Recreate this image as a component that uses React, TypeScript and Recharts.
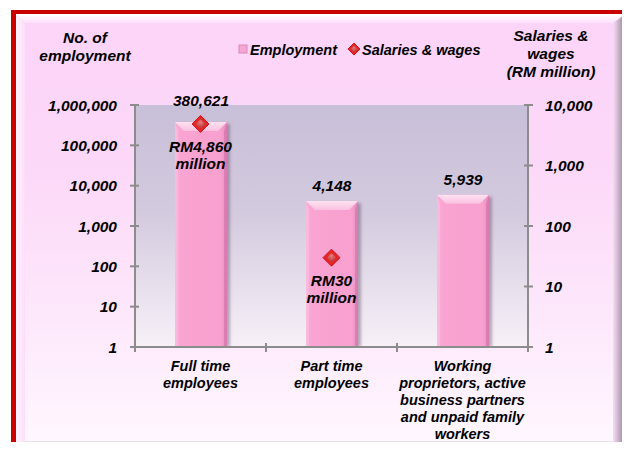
import React from 'react';
import { ComposedChart, Bar, Line, XAxis, YAxis, CartesianGrid, LabelList } from 'recharts';

const categories = [
  'Full time employees',
  'Part time employees',
  'Working proprietors, active business partners and unpaid family workers',
];
const categoryLines = [
  ['Full time', 'employees'],
  ['Part time', 'employees'],
  ['Working', 'proprietors, active', 'business partners', 'and unpaid family', 'workers'],
];
const employment = [380621, 4148, 5939];
const salaries: (number | null)[] = [4860, 30, null];
const salaryLabels: (string[] | null)[] = [['RM4,860', 'million'], ['RM30', 'million'], null];
const leftTicks = [1, 10, 100, 1000, 10000, 100000, 1000000];
const rightTicks = [1, 10, 100, 1000, 10000];
const leftTitle = ['No. of', 'employment'];
const rightTitle = ['Salaries &', 'wages', '(RM million)'];
const legendNames = ['Employment', 'Salaries & wages'];

const data = categories.map((c, i) => ({
  name: c,
  lines: categoryLines[i],
  employment: employment[i],
  salaries: salaries[i],
  salLabel: salaryLabels[i],
}));

const FONT = '"Liberation Sans", Arial, sans-serif';
const AXIS = '#8C8C8C';
const PLOT_L = 135;
const PLOT_R = 528;
const PLOT_T = 105;
const PLOT_B = 347;
const W = 630;
const H = 450;
const BAND = (PLOT_R - PLOT_L) / categories.length;

const txt = (size: number): React.CSSProperties => ({
  fontFamily: FONT,
  fontWeight: 700,
  fontStyle: 'italic',
  fontSize: size,
  fill: '#000',
});

const fmt = (v: number) => v.toLocaleString('en-US');

const LeftTick = (p: any) => (
  <g>
    <line x1={p.x - 5} x2={p.x + 4} y1={p.y} y2={p.y} stroke={AXIS} strokeWidth={2} />
    <text x={p.x - 18} y={p.y} dy="0.36em" textAnchor="end" style={txt(15.5)}>
      {fmt(p.payload.value)}
    </text>
  </g>
);

const RightTick = (p: any) => (
  <g>
    <line x1={p.x - 4} x2={p.x + 5} y1={p.y} y2={p.y} stroke={AXIS} strokeWidth={2} />
    <text x={p.x + 17} y={p.y} dy="0.36em" textAnchor="start" style={txt(15.5)}>
      {fmt(p.payload.value)}
    </text>
  </g>
);

const XTick = (p: any) => {
  const lines: string[] = categoryLines[p.index] || [];
  const last = p.index === categories.length - 1;
  return (
    <g>
      <line x1={p.x - BAND / 2} x2={p.x - BAND / 2} y1={p.y - 4} y2={p.y + 5} stroke={AXIS} strokeWidth={2} />
      {last && (
        <line x1={p.x + BAND / 2} x2={p.x + BAND / 2} y1={p.y - 4} y2={p.y + 5} stroke={AXIS} strokeWidth={2} />
      )}
      {lines.map((l, i) => (
        <text key={i} x={p.x} y={p.y + 24 + i * 17} textAnchor="middle" style={txt(14.5)}>
          {l}
        </text>
      ))}
    </g>
  );
};

const BevelBar = (p: any) => {
  const { x, y, width, height } = p;
  if (!height || height <= 0) return <g />;
  const b = Math.min(9, height / 2);
  return (
    <g>
      <rect x={x + 3} y={y + 2} width={width} height={height - 2} fill="rgba(90,60,90,0.4)" filter="url(#barShadow)" />
      <rect x={x} y={y} width={width} height={height} fill="url(#barBody)" />
      <polygon points={`${x},${y} ${x + width},${y} ${x + width - b},${y + b} ${x + b},${y + b}`} fill="url(#barTop)" />
      <polygon points={`${x},${y} ${x + 3},${y + b} ${x + 3},${y + height} ${x},${y + height}`} fill="rgba(255,220,240,0.3)" />
      <polygon points={`${x + width},${y} ${x + width - 3},${y + b} ${x + width - 3},${y + height} ${x + width},${y + height}`} fill="rgba(190,90,150,0.35)" />
    </g>
  );
};

const Diamond = ({ cx, cy, r }: { cx: number; cy: number; r: number }) => (
  <g>
    <polygon points={`${cx},${cy - r} ${cx + r},${cy} ${cx},${cy + r} ${cx - r},${cy}`} fill="#E4262A" stroke="#D01515" strokeWidth={1} />
    <polygon
      points={`${cx},${cy - r * 0.55} ${cx + r * 0.55},${cy} ${cx},${cy + r * 0.55} ${cx - r * 0.55},${cy}`}
      fill="url(#diamondInner)"
    />
  </g>
);

const SalaryDot = (p: any) => {
  if (p.value == null || p.cx == null || p.cy == null) return <g key={p.index} />;
  return <Diamond key={p.index} cx={p.cx} cy={p.cy} r={8.5} />;
};

const EmpLabel = (p: any) => {
  const { x, y, width, value, index } = p;
  const lift = index === 0 ? 16 : 10;
  return (
    <text x={x + width / 2} y={y - lift} textAnchor="middle" style={txt(15.5)}>
      {fmt(value)}
    </text>
  );
};

const SalLabel = (p: any) => {
  const { x, y, index } = p;
  const lines = salaryLabels[index];
  if (!lines || x == null || y == null) return <g />;
  return (
    <g>
      {lines.map((l, i) => (
        <text key={i} x={x} y={y + 28 + i * 17} textAnchor="middle" style={txt(15.5)}>
          {l}
        </text>
      ))}
    </g>
  );
};

// frame geometry
const FL = 16; // inner left (after red)
const FT = 14; // inner top
const FR = 626; // inner right
const FB = 450; // inner bottom
const BV = 9; // bevel width

const Frame = () => (
  <svg width={W} height={H} style={{ position: 'absolute', left: 0, top: 0 }}>
    <defs>
      <linearGradient id="stripGrad" x1="0" y1="0" x2="0" y2="1">
        <stop offset="0%" stopColor="#E9F0F2" />
        <stop offset="55%" stopColor="#C5D3D8" />
        <stop offset="100%" stopColor="#8FA6AF" />
      </linearGradient>
      <linearGradient id="frameBg" x1="0" y1="0" x2="0" y2="1">
        <stop offset="0%" stopColor="#FCD4F8" />
        <stop offset="35%" stopColor="#FCD8F8" />
        <stop offset="70%" stopColor="#FDE8FB" />
        <stop offset="100%" stopColor="#FFF8FF" />
      </linearGradient>
      <linearGradient id="bvTop" x1="0" y1="0" x2="0" y2="1">
        <stop offset="0%" stopColor="#FFFFFF" />
        <stop offset="100%" stopColor="#FDE0FA" />
      </linearGradient>
      <linearGradient id="bvLeft" x1="0" y1="0" x2="1" y2="0">
        <stop offset="0%" stopColor="#FFF2FD" />
        <stop offset="100%" stopColor="#FCDDF9" />
      </linearGradient>
      <linearGradient id="bvRight" x1="0" y1="0" x2="1" y2="0">
        <stop offset="0%" stopColor="#F6DDF3" />
        <stop offset="100%" stopColor="#8E7A92" />
      </linearGradient>
      <linearGradient id="bvBottom" x1="0" y1="0" x2="0" y2="1">
        <stop offset="0%" stopColor="#EEE8EE" />
        <stop offset="100%" stopColor="#8E8A8E" />
      </linearGradient>
    </defs>
    <rect x={0} y={0} width={W} height={H} fill="#FFFFFF" />
    <path d={`M16,0 H630 V6 H20 Q16,6 16,2 Z`} fill="url(#stripGrad)" />
    <rect x={11} y={10} width={W} height={H} fill="#C80000" />
    <rect x={FL} y={FT} width={FR - FL} height={FB - FT} fill="url(#frameBg)" />
    <polygon points={`${FL},${FT} ${FR},${FT} ${FR - BV - 4},${FT + BV} ${FL + BV},${FT + BV}`} fill="url(#bvTop)" />
    <polygon points={`${FL},${FT} ${FL + BV},${FT + BV} ${FL + BV},${FB - BV} ${FL},${FB}`} fill="url(#bvLeft)" />
    <polygon points={`${FR},${FT} ${FR},${FB} ${FR - BV - 4},${FB - BV} ${FR - BV - 4},${FT + BV}`} fill="url(#bvRight)" />
    <polygon points={`${FL},${FB} ${FR},${FB} ${FR - BV - 4},${FB - BV} ${FL + BV},${FB - BV}`} fill="url(#bvBottom)" />
  </svg>
);

export default function App() {
  return (
    <div style={{ position: 'relative', width: W, height: H, margin: -8, overflow: 'hidden', background: '#fff' }}>
      <svg width={0} height={0} style={{ position: 'absolute' }}>
        <defs>
          <linearGradient id="plotBg" x1="0" y1="0" x2="0" y2="1">
            <stop offset="0%" stopColor="#C8BFD8" />
            <stop offset="45%" stopColor="#D4CADF" />
            <stop offset="100%" stopColor="#F7F0F7" />
          </linearGradient>
          <linearGradient id="barBody" x1="0" y1="0" x2="1" y2="0">
            <stop offset="0%" stopColor="#F8AED7" />
            <stop offset="12%" stopColor="#F9A4D2" />
            <stop offset="88%" stopColor="#F8A0CF" />
            <stop offset="100%" stopColor="#E48DBE" />
          </linearGradient>
          <linearGradient id="barTop" x1="0" y1="0" x2="0" y2="1">
            <stop offset="0%" stopColor="#FDE2F1" />
            <stop offset="100%" stopColor="#FBC0E0" />
          </linearGradient>
          <radialGradient id="diamondInner" cx="0.5" cy="0.3" r="0.7">
            <stop offset="0%" stopColor="#E87A7A" />
            <stop offset="100%" stopColor="#B83434" />
          </radialGradient>
          <filter id="barShadow" x="-20%" y="-20%" width="140%" height="140%">
            <feGaussianBlur stdDeviation="1.5" />
          </filter>
        </defs>
      </svg>
      <Frame />
      <div style={{ position: 'absolute', left: 0, top: 0 }}>
        <ComposedChart
          width={W}
          height={H}
          data={data}
          margin={{ top: PLOT_T, right: W - PLOT_R - 80, bottom: H - PLOT_B - 90, left: PLOT_L - 80 }}
        >
          <CartesianGrid yAxisId="left" horizontal={false} vertical={false} fill="url(#plotBg)" stroke="none" />
          <XAxis
            dataKey="name"
            height={90}
            interval={0}
            tickSize={0}
            tickMargin={0}
            tickLine={false}
            axisLine={{ stroke: AXIS, strokeWidth: 2 }}
            tick={<XTick />}
          />
          <YAxis
            yAxisId="left"
            orientation="left"
            width={80}
            scale="log"
            domain={[1, 1000000]}
            ticks={leftTicks}
            allowDataOverflow
            interval={0}
            tickSize={0}
            tickMargin={0}
            tickLine={false}
            axisLine={{ stroke: AXIS, strokeWidth: 2 }}
            tick={<LeftTick />}
          />
          <YAxis
            yAxisId="right"
            orientation="right"
            width={80}
            scale="log"
            domain={[1, 10000]}
            ticks={rightTicks}
            allowDataOverflow
            interval={0}
            tickSize={0}
            tickMargin={0}
            tickLine={false}
            axisLine={{ stroke: AXIS, strokeWidth: 2 }}
            tick={<RightTick />}
          />
          <Bar
            yAxisId="left"
            dataKey="employment"
            name={legendNames[0]}
            barSize={52}
            shape={<BevelBar />}
            isAnimationActive={false}
          >
            <LabelList dataKey="employment" content={<EmpLabel />} />
          </Bar>
          <Line
            yAxisId="right"
            dataKey="salaries"
            name={legendNames[1]}
            stroke="none"
            dot={<SalaryDot />}
            activeDot={false}
            isAnimationActive={false}
            connectNulls={false}
          >
            <LabelList dataKey="salaries" content={<SalLabel />} />
          </Line>
        </ComposedChart>
      </div>
      <svg width={W} height={100} style={{ position: 'absolute', left: 0, top: 0, pointerEvents: 'none' }}>
        {leftTitle.map((l, i) => (
          <text key={i} x={85} y={43 + i * 18} textAnchor="middle" style={txt(15.5)}>
            {l}
          </text>
        ))}
        {rightTitle.map((l, i) => (
          <text key={i} x={551} y={41 + i * 18} textAnchor="middle" style={txt(15.5)}>
            {l}
          </text>
        ))}
        <rect x={239} y={45} width={8} height={8} fill="#F4A6D4" stroke="#D889B8" strokeWidth={1} />
        <text x={250} y={55} style={txt(14.5)}>
          {legendNames[0]}
        </text>
        <Diamond cx={354} cy={49} r={6} />
        <text x={362} y={55} style={txt(14.5)}>
          {legendNames[1]}
        </text>
      </svg>
    </div>
  );
}
